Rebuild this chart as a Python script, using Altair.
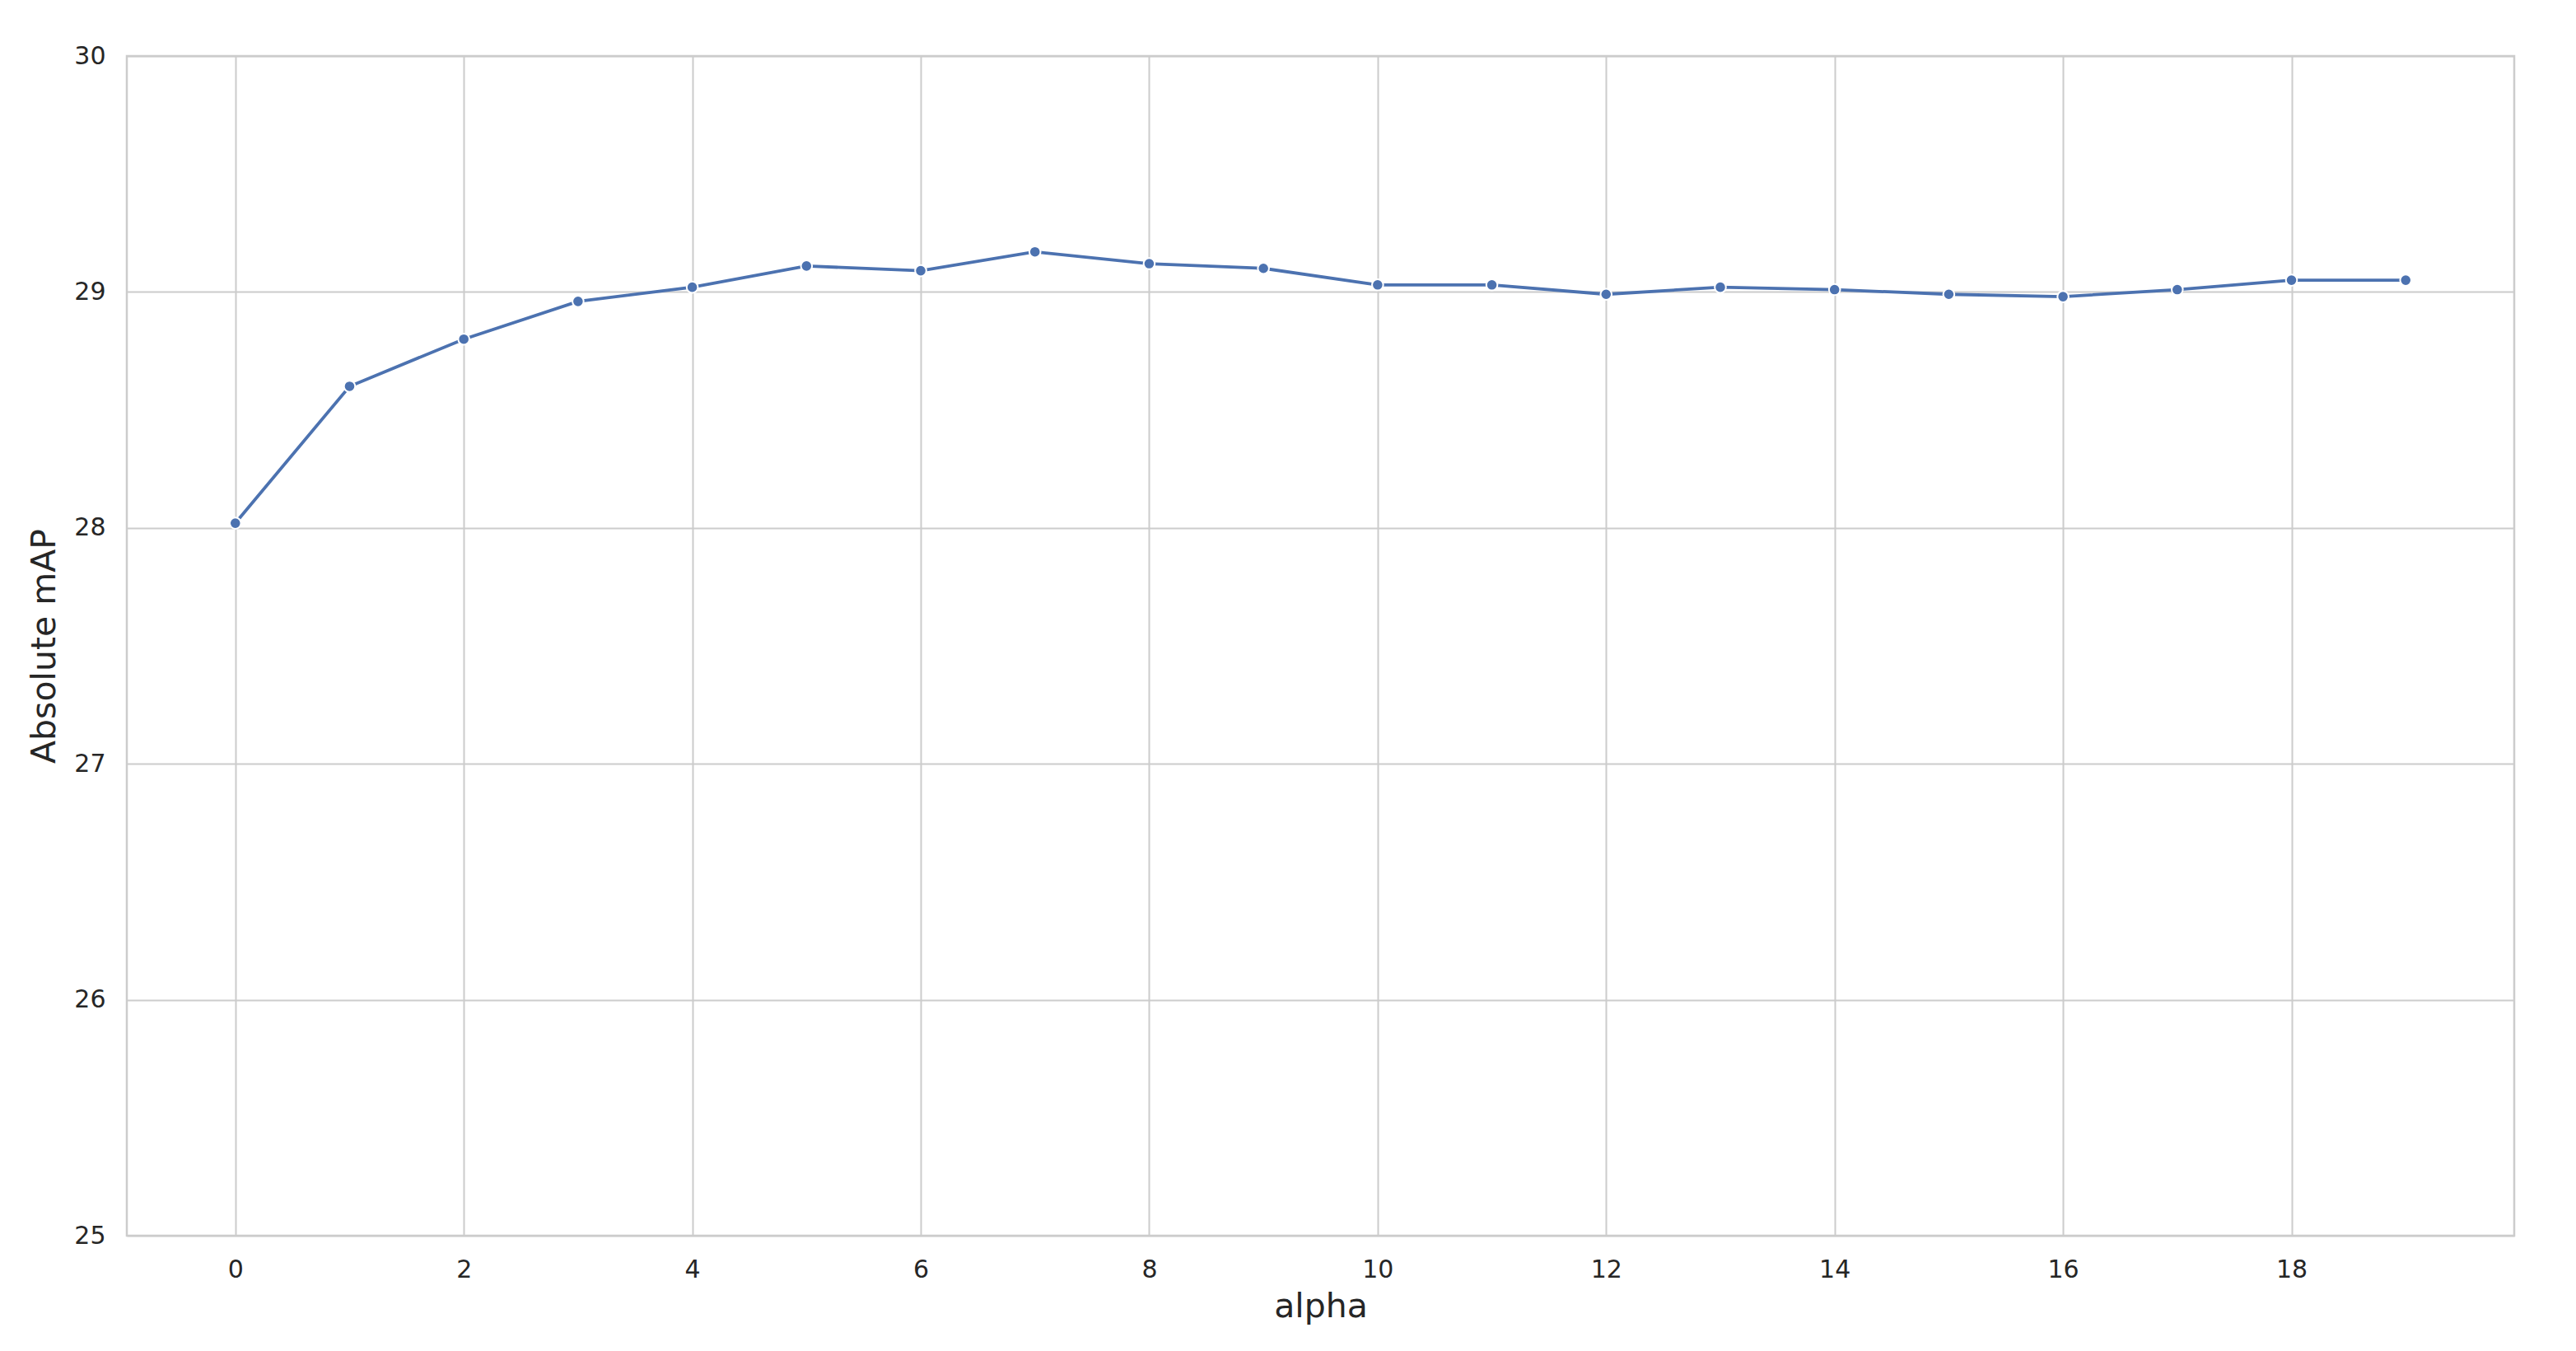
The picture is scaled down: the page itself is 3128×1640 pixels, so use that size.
import altair as alt
import pandas as pd

alpha = list(range(20))
absolute_map = [28.02, 28.60, 28.80, 28.96, 29.02, 29.11, 29.09, 29.17, 29.12, 29.10,
                29.03, 29.03, 28.99, 29.02, 29.01, 28.99, 28.98, 29.01, 29.05, 29.05]
x_ticks = list(range(0, 20, 2))
y_ticks = [25, 26, 27, 28, 29, 30]

df = pd.DataFrame({"alpha": alpha, "Absolute mAP": absolute_map})

FONT = "DejaVu Sans"
COLOR = "#4C72B0"

x = alt.X("alpha:Q", scale=alt.Scale(domain=[-0.95, 19.95], nice=False, zero=False),
          axis=alt.Axis(values=x_ticks, title="alpha", format="d"))
y = alt.Y("Absolute mAP:Q", scale=alt.Scale(domain=[25, 30], nice=False, zero=False),
          axis=alt.Axis(values=y_ticks, title="Absolute mAP", format="d"))

line = alt.Chart(df).mark_line(color=COLOR, strokeWidth=3.8).encode(x=x, y=y)
pts = alt.Chart(df).mark_point(filled=True, fill=COLOR, stroke="white", strokeWidth=2,
                               size=185, opacity=1).encode(x=x, y=y)

chart = (line + pts).properties(
    width=2899, height=1432,
    autosize=alt.AutoSizeParams(type="none"),
    padding={"left": 146, "top": 60, "right": 60, "bottom": 120},
    background="white",
).configure_view(
    stroke="#cccccc", strokeWidth=2.5
).configure_axis(
    grid=True, gridColor="#cccccc", gridWidth=2,
    domain=False, ticks=False,
    labelFont=FONT, labelFontSize=30, labelColor="#262626", labelPadding=26,
    titleFont=FONT, titleFontSize=41, titleColor="#262626", titleFontWeight="normal",
).configure_axisX(titlePadding=10).configure_axisY(titlePadding=14)

chart.save("out.html", embed_options={"renderer": "svg", "actions": False})
